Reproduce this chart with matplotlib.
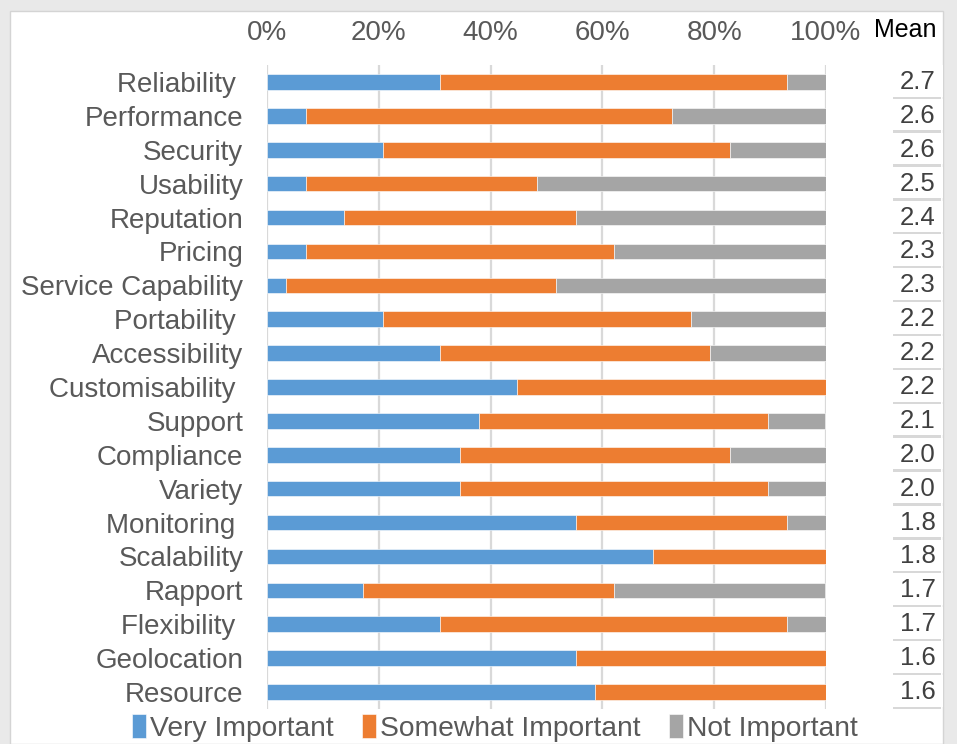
import matplotlib
matplotlib.use("Agg")
import matplotlib.pyplot as plt
from matplotlib.patches import Rectangle

plt.rcParams['font.family'] = ['Liberation Sans', 'DejaVu Sans']

categories = ["Reliability ", "Performance", "Security", "Usability", "Reputation",
              "Pricing", "Service Capability", "Portability ", "Accessibility",
              "Customisability ", "Support", "Compliance", "Variety", "Monitoring ",
              "Scalability", "Rapport", "Flexibility ", "Geolocation", "Resource"]
very = [31.0, 6.9, 20.7, 6.9, 13.8, 6.9, 3.4, 20.7, 31.0, 44.8, 37.9, 34.5, 34.5,
        55.2, 69.0, 17.2, 31.0, 55.2, 58.6]
somewhat = [62.1, 65.5, 62.1, 41.4, 41.4, 55.2, 48.3, 55.2, 48.3, 55.2, 51.7, 48.3,
            55.2, 37.9, 31.0, 44.8, 62.1, 44.8, 41.4]
not_imp = [6.9, 27.6, 17.2, 51.7, 44.8, 37.9, 48.3, 24.1, 20.7, 0.0, 10.3, 17.2,
           10.3, 6.9, 0.0, 37.9, 6.9, 0.0, 0.0]
means = ["2.7", "2.6", "2.6", "2.5", "2.4", "2.3", "2.3", "2.2", "2.2", "2.2",
         "2.1", "2.0", "2.0", "1.8", "1.8", "1.7", "1.7", "1.6", "1.6"]
xticks = [0, 20, 40, 60, 80, 100]
xtick_labels = ["0%", "20%", "40%", "60%", "80%", "100%"]
series_names = ["Very Important", "Somewhat Important", "Not Important"]
colors = ["#5B9BD5", "#ED7D31", "#A5A5A5"]

W, H = 957, 744
fig = plt.figure(figsize=(W / 100, H / 100), dpi=100, facecolor="#e9e9e9")
# white panel
fig.patches.append(Rectangle((10 / W, 0), (943 - 10) / W, (H - 11) / H,
                             transform=fig.transFigure, facecolor="white",
                             edgecolor="#d4d4d4", linewidth=1.0, zorder=-5))

left, right = 267 / W, 826 / W
top, bottom = 1 - 65 / H, 1 - 709 / H
ax = fig.add_axes([left, bottom, right - left, top - bottom])
ax.set_facecolor("none")

n = len(categories)
y = list(range(n))
lefts = [0.0] * n
for vals, name, c in zip([very, somewhat, not_imp], series_names, colors):
    ax.barh(y, vals, left=lefts, height=0.46, color=c, edgecolor="white",
            linewidth=0.4, label=name, zorder=3)
    lefts = [a + b for a, b in zip(lefts, vals)]

ax.set_xlim(0, 100)
ax.set_ylim(n - 0.5, -0.5)
ax.set_xticks(xticks)
ax.set_xticklabels(xtick_labels)
ax.set_yticks(y)
ax.set_yticklabels(categories)
ax.xaxis.tick_top()
ax.tick_params(axis="x", length=0, pad=14, labelsize=20, labelcolor="#595959")
ax.tick_params(axis="y", length=0, pad=17, labelsize=20, labelcolor="#595959")
for s in ax.spines.values():
    s.set_visible(False)
ax.grid(axis="x", color="#d9d9d9", linewidth=1.6, zorder=0)
ax.set_axisbelow(True)

# Mean column
ax2 = fig.add_axes([893 / W, bottom, 50 / W, top - bottom])
ax2.set_xlim(0, 1)
ax2.set_ylim(n - 0.5, -0.5)
ax2.axis("off")
for i, m in enumerate(means):
    ax2.add_patch(Rectangle((-0.04, i - 0.47 + 0.06), 1.0, 0.96,
                            facecolor="#d8d8d8", edgecolor="none", zorder=1))
    ax2.add_patch(Rectangle((0, i - 0.5), 1.0, 0.93,
                            facecolor="white", edgecolor="none", zorder=2))
    ax2.text(0.5, i, m, ha="center", va="center", fontsize=18.5,
             color="#404040", zorder=3)

fig.text(905 / W, 1 - 30 / H, "Mean", ha="center", va="center",
         fontsize=18, color="black")

handles, labels = ax.get_legend_handles_labels()
fig.legend(handles, labels, loc="center", bbox_to_anchor=(495 / W, 1 - 728 / H),
           ncol=3, frameon=False, fontsize=20.3, labelcolor="#595959",
           handlelength=0.5, handleheight=0.9, handletextpad=0.15,
           columnspacing=1.0, borderaxespad=0, borderpad=0)

fig.savefig("out.png", dpi=100, facecolor=fig.get_facecolor())
